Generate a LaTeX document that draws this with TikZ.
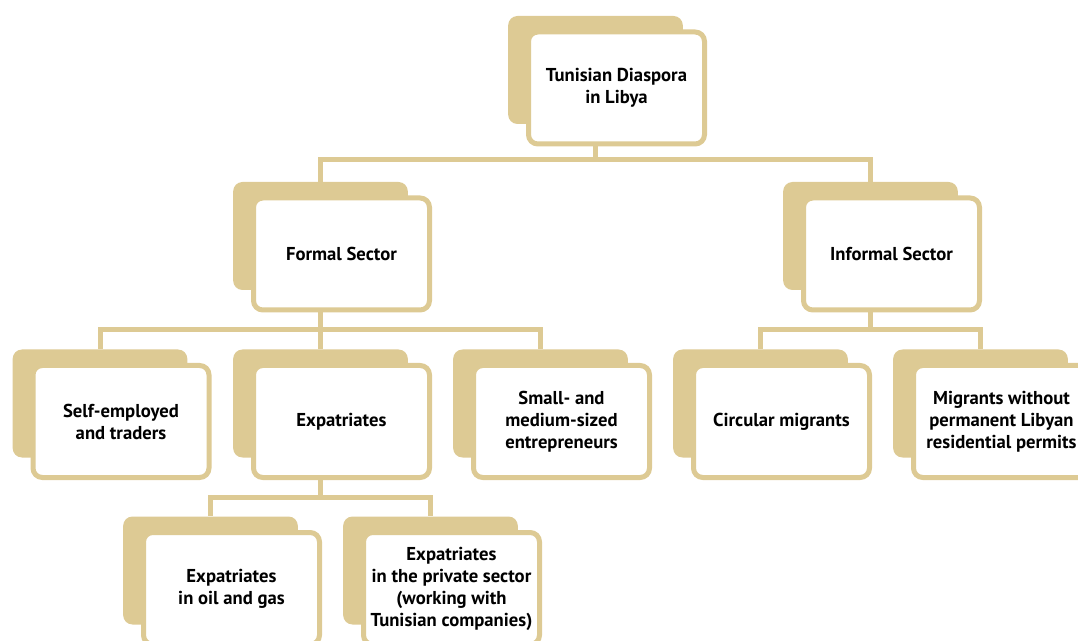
\documentclass[tikz,border=0pt]{standalone}
\usepackage{fontspec}
\setmainfont{PT Sans}
\definecolor{sand}{RGB}{221,202,148}

\begin{document}
\begin{tikzpicture}[x=0.75pt,y=-0.75pt]
\tikzstyle{back}=[rectangle,rounded corners=7pt,fill=sand,minimum width=131pt,minimum height=81pt,inner sep=0pt]
\tikzstyle{card}=[rectangle,rounded corners=7pt,draw=sand,line width=3.75pt,fill=white,minimum width=132pt,minimum height=84pt,inner sep=2pt,align=center,font=\bfseries\fontsize{14}{16.5}\selectfont]
\tikzstyle{link}=[draw=sand,line width=3.75pt]
\useasboundingbox (0,0) rectangle (1078,641);
% level 1
\node[back] (diaspora-b) at (595.5,70) {};
\node[card] (diaspora) at (616.5,88) {Tunisian Diaspora\\in Libya};
% level 2
\node[back] (formal-b) at (320.5,236) {};
\node[card] (formal) at (341.5,254) {Formal Sector};
\node[back] (informal-b) at (870.5,236) {};
\node[card] (informal) at (891.5,254) {Informal Sector};
% level 3
\node[back] (self-b) at (100,403.5) {};
\node[card] (self) at (121,421.5) {Self-employed\\and traders};
\node[back] (expat-b) at (320.5,403.5) {};
\node[card] (expat) at (341.5,421.5) {Expatriates};
\node[back] (small-b) at (540.5,403.5) {};
\node[card] (small) at (561.5,421.5) {Small- and\\medium-sized\\entrepreneurs};
\node[back] (circular-b) at (760.5,403.5) {};
\node[card] (circular) at (781.5,421.5) {Circular migrants};
\node[back] (migrants-b) at (980.5,403.5) {};
\node[card] (migrants) at (1001.5,421.5) {Migrants without\\permanent Libyan\\residential permits};
% level 4
\node[back] (oil-b) at (210.5,570.5) {};
\node[card] (oil) at (231.5,588.5) {Expatriates\\in oil and gas};
\node[back] (private-b) at (430.5,570.5) {};
\node[card] (private) at (451.5,588.5) {Expatriates\\in the private sector\\(working with\\Tunisian companies)};
% buses
\coordinate (bus1) at (0,160);
\coordinate (bus2) at (0,330);
\coordinate (bus3) at (0,497);
\draw[link] (diaspora.south -| diaspora-b) -- (bus1 -| diaspora-b);
\draw[link] (formal-b.north) -- (bus1 -| formal-b) -- (bus1 -| informal-b) -- (informal-b.north);
\draw[link] (formal.south -| formal-b) -- (bus2 -| formal-b);
\draw[link] (self-b.north) -- (bus2 -| self-b) -- (bus2 -| small-b) -- (small-b.north);
\draw[link] (expat-b.north) -- (bus2 -| expat-b);
\draw[link] (informal.south -| informal-b) -- (bus2 -| informal-b);
\draw[link] (circular-b.north) -- (bus2 -| circular-b) -- (bus2 -| migrants-b) -- (migrants-b.north);
\draw[link] (expat.south -| expat-b) -- (bus3 -| expat-b);
\draw[link] (oil-b.north) -- (bus3 -| oil-b) -- (bus3 -| private-b) -- (private-b.north);
\end{tikzpicture}
\end{document}
